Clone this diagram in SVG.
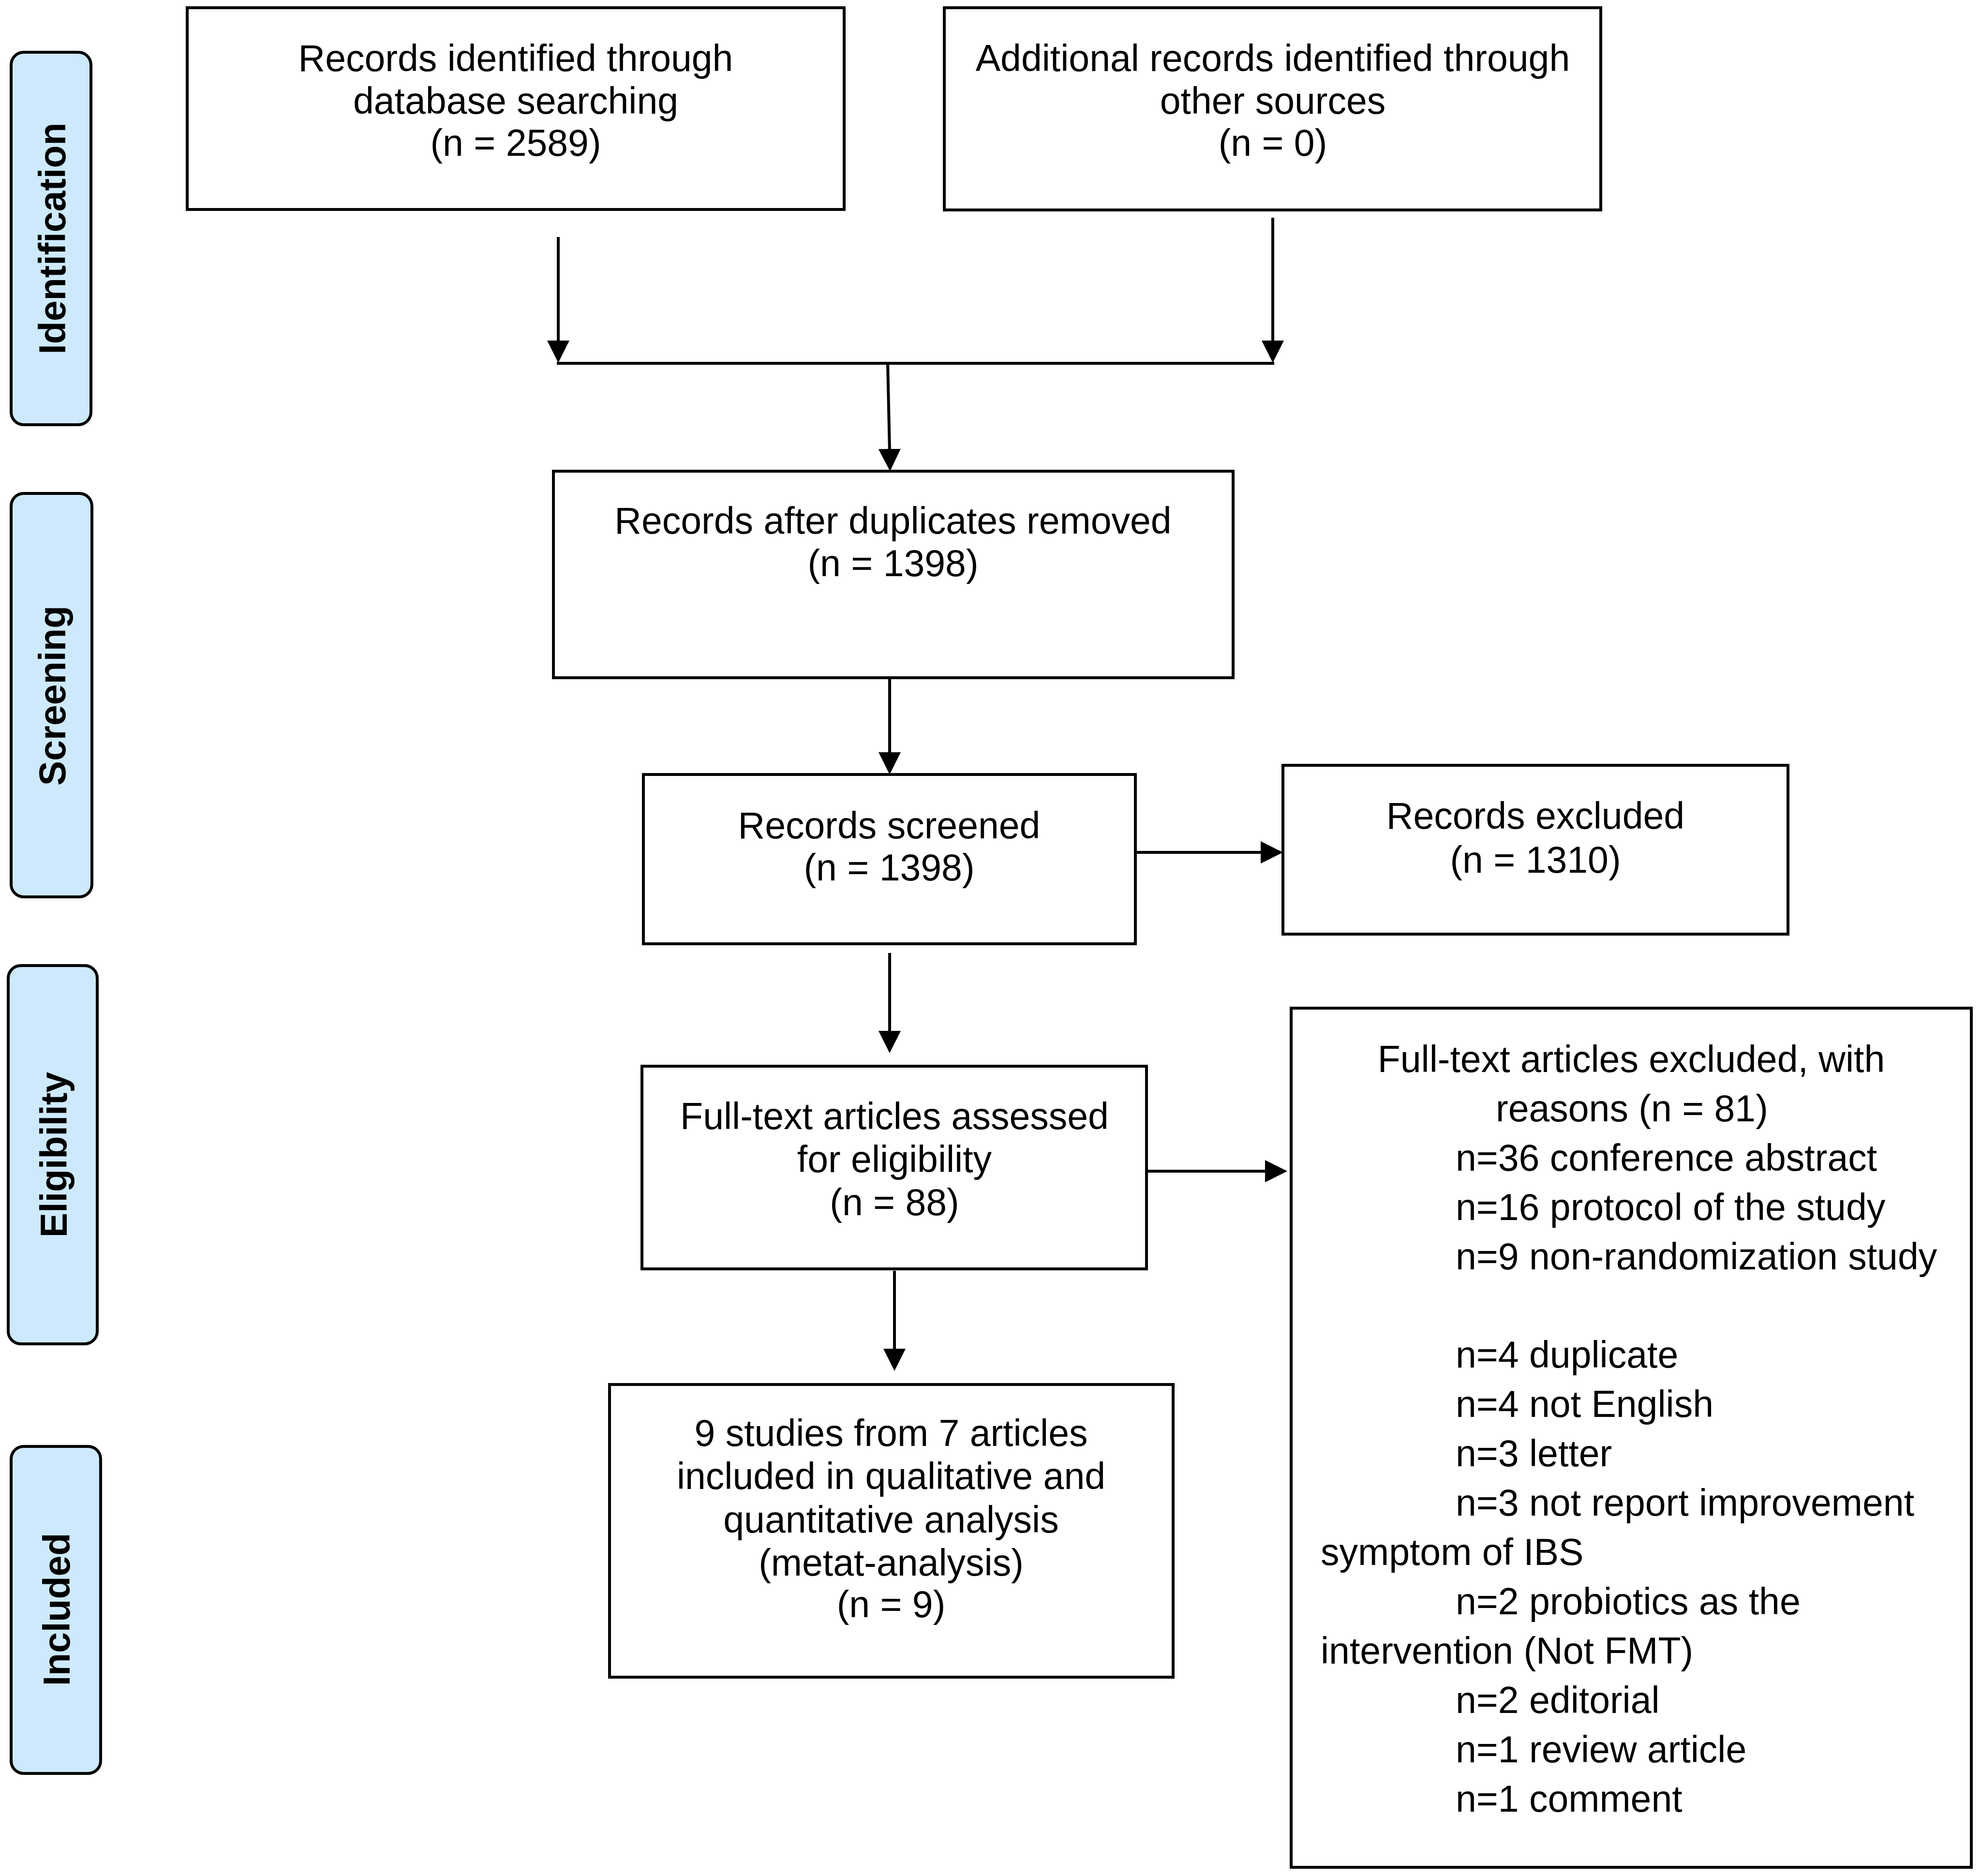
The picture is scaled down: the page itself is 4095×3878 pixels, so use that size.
<svg xmlns="http://www.w3.org/2000/svg" width="4095" height="3878" viewBox="0 0 4095 3878">
<style>
.box{fill:#ffffff;stroke:#000000;stroke-width:6}
.lab{fill:#cde9fb;stroke:#000000;stroke-width:6}
.t{font-family:"Liberation Sans",Arial,sans-serif;font-size:77px;fill:#000000}
.m{text-anchor:middle}
.lt{font-family:"Liberation Sans",Arial,sans-serif;font-size:77px;font-weight:bold;fill:#000000;text-anchor:middle}
.c{fill:none;stroke:#000000;stroke-width:6}
.a{marker-end:url(#ah)}
</style>
<defs>
<marker id="ah" markerUnits="userSpaceOnUse" markerWidth="46" markerHeight="46" viewBox="0 0 46 46" refX="6" refY="23" orient="auto">
<path d="M0,0 L46,23 L0,46 Z" fill="#000000"/>
</marker>
</defs>
<rect width="4095" height="3878" fill="#ffffff"/>

<g id="label-identification">
<rect class="lab" x="23" y="108" width="165" height="770" rx="26"/>
<text class="lt" transform="translate(135,493) rotate(-90)">Identification</text>
</g>
<g id="label-screening">
<rect class="lab" x="23" y="1020" width="167" height="834" rx="26"/>
<text class="lt" transform="translate(135,1438) rotate(-90)">Screening</text>
</g>
<g id="label-eligibility">
<rect class="lab" x="17" y="1996" width="184" height="782" rx="26"/>
<text class="lt" transform="translate(138,2387) rotate(-90)">Eligibility</text>
</g>
<g id="label-included">
<rect class="lab" x="23" y="2990" width="185" height="676" rx="26"/>
<text class="lt" transform="translate(144,3327) rotate(-90)">Included</text>
</g>

<g id="connectors">
<line class="c a" x1="1154" y1="490" x2="1154" y2="710"/>
<line class="c a" x1="2631" y1="450" x2="2631" y2="710"/>
<line class="c" x1="1151" y1="751" x2="2634" y2="751"/>
<line class="c a" x1="1835" y1="751" x2="1839" y2="934"/>
<line class="c a" x1="1839" y1="1401" x2="1839" y2="1561"/>
<line class="c a" x1="2347" y1="1762" x2="2612" y2="1762"/>
<line class="c a" x1="1839" y1="1970" x2="1839" y2="2137"/>
<line class="c a" x1="2352" y1="2421" x2="2621" y2="2421"/>
<line class="c a" x1="1849" y1="2627" x2="1849" y2="2794"/>
</g>

<g id="node-database">
<rect class="box" x="387" y="16" width="1358" height="417"/>
<text class="t m" x="1066" y="147">Records identified through</text>
<text class="t m" x="1066" y="235">database searching</text>
<text class="t m" x="1066" y="322">(n = 2589)</text>
</g>
<g id="node-other">
<rect class="box" x="1952" y="16" width="1357" height="418"/>
<text class="t m" x="2631" y="147">Additional records identified through</text>
<text class="t m" x="2631" y="235">other sources</text>
<text class="t m" x="2631" y="322">(n = 0)</text>
</g>
<g id="node-duplicates">
<rect class="box" x="1144" y="974" width="1405" height="427"/>
<text class="t m" x="1846" y="1103">Records after duplicates removed</text>
<text class="t m" x="1846" y="1191">(n = 1398)</text>
</g>
<g id="node-screened">
<rect class="box" x="1330" y="1601" width="1017" height="350"/>
<text class="t m" x="1838" y="1733">Records screened</text>
<text class="t m" x="1838" y="1820">(n = 1398)</text>
</g>
<g id="node-excluded">
<rect class="box" x="2652" y="1582" width="1044" height="349"/>
<text class="t m" x="3174" y="1713">Records excluded</text>
<text class="t m" x="3174" y="1804">(n = 1310)</text>
</g>
<g id="node-fulltext">
<rect class="box" x="1327" y="2204" width="1043" height="419"/>
<text class="t m" x="1849" y="2334">Full-text articles assessed</text>
<text class="t m" x="1849" y="2423">for eligibility</text>
<text class="t m" x="1849" y="2512">(n = 88)</text>
</g>
<g id="node-fulltext-excluded">
<rect class="box" x="2669" y="2084" width="1406" height="1776"/>
<text class="t m" x="3372" y="2216">Full-text articles excluded, with</text>
<text class="t" x="3092" y="2318">reasons (n = 81)</text>
<text class="t" x="3009" y="2420">n=36 conference abstract</text>
<text class="t" x="3009" y="2522">n=16 protocol of the study</text>
<text class="t" x="3009" y="2624">n=9 non-randomization study</text>
<text class="t" x="3009" y="2827">n=4 duplicate</text>
<text class="t" x="3009" y="2929">n=4 not English</text>
<text class="t" x="3009" y="3031">n=3 letter</text>
<text class="t" x="3009" y="3133">n=3 not report improvement</text>
<text class="t" x="2730" y="3235">symptom of IBS</text>
<text class="t" x="3009" y="3337">n=2 probiotics as the</text>
<text class="t" x="2730" y="3439">intervention (Not FMT)</text>
<text class="t" x="3009" y="3541">n=2 editorial</text>
<text class="t" x="3009" y="3643">n=1 review article</text>
<text class="t" x="3009" y="3745">n=1 comment</text>
</g>
<g id="node-included">
<rect class="box" x="1260" y="2862" width="1165" height="605"/>
<text class="t m" x="1842" y="2989">9 studies from 7 articles</text>
<text class="t m" x="1842" y="3078">included in qualitative and</text>
<text class="t m" x="1842" y="3168">quantitative analysis</text>
<text class="t m" x="1842" y="3257">(metat-analysis)</text>
<text class="t m" x="1842" y="3343">(n = 9)</text>
</g>
</svg>
